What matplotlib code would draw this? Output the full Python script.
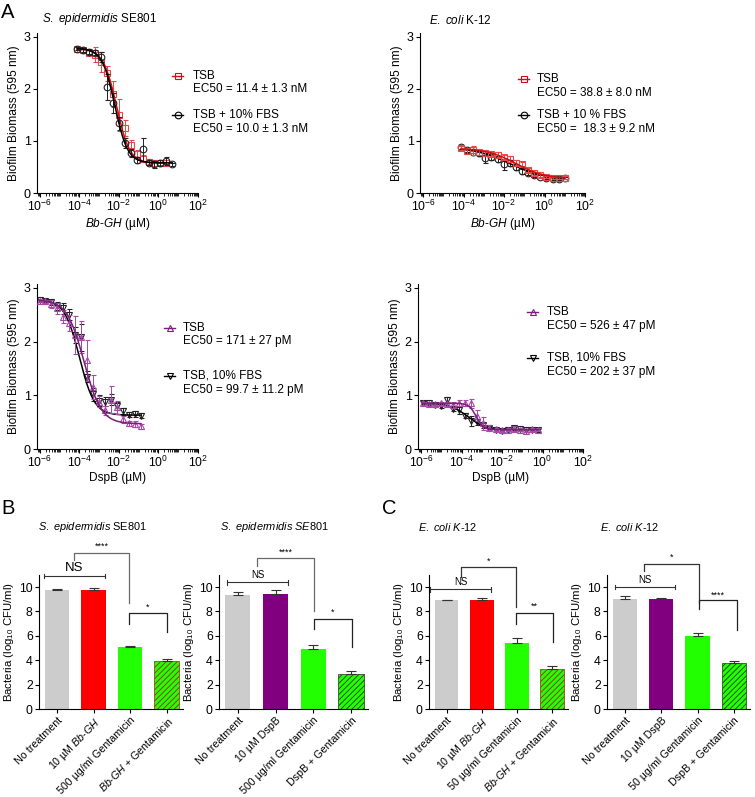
import numpy as np
import matplotlib
matplotlib.use("Agg")
import matplotlib.pyplot as plt
from matplotlib.ticker import LogLocator, NullFormatter, FixedLocator
from matplotlib.lines import Line2D

plt.rcParams['font.family'] = 'Liberation Sans'
plt.rcParams['mathtext.fontset'] = 'custom'
plt.rcParams['mathtext.rm'] = 'Liberation Sans'
plt.rcParams['mathtext.it'] = 'Liberation Sans:italic'
plt.rcParams['mathtext.bf'] = 'Liberation Sans:bold'
plt.rcParams['mathtext.sf'] = 'Liberation Sans'
plt.rcParams['hatch.linewidth'] = 0.6

# ---- A: dose response data (concentration in uM) ----
se_bb_conc = [7.6e-5, 1.5e-4, 3.1e-4, 6.1e-4, 1.2e-3, 2.4e-3, 4.9e-3, 9.8e-3, 0.0195,
              0.039, 0.078, 0.156, 0.3125, 0.625, 1.25, 2.5, 5.0]
se_bb_tsb = [2.76, 2.74, 2.70, 2.66, 2.52, 2.30, 1.90, 1.50, 1.25, 0.92, 0.75, 0.66,
             0.60, 0.57, 0.58, 0.58]
se_bb_tsb_err = [0.04, 0.04, 0.05, 0.15, 0.2, 0.15, 0.25, 0.3, 0.15, 0.1, 0.08, 0.07,
                 0.05, 0.05, 0.05, 0.06]
se_bb_fbs = [2.77, 2.75, 2.72, 2.70, 2.61, 2.04, 1.73, 1.34, 0.96, 0.77, 0.64, 0.84,
             0.58, 0.55, 0.57, 0.61, 0.55]
se_bb_fbs_err = [0.03, 0.03, 0.04, 0.05, 0.10, 0.25, 0.2, 0.12, 0.1, 0.08, 0.06, 0.22,
                 0.05, 0.06, 0.06, 0.08, 0.03]
se_bb_tsb_fit = [2.77, 0.57, 0.0075, 1.3]   # top, bottom, EC50, hill
se_bb_fbs_fit = [2.78, 0.58, 0.0062, 1.35]

ec_bb_conc = [7.6e-5, 1.5e-4, 3.1e-4, 6.1e-4, 1.2e-3, 2.4e-3, 4.9e-3, 9.8e-3, 0.0195,
              0.039, 0.078, 0.156, 0.3125, 0.625, 1.25, 2.5, 5.0, 10.0]
ec_bb_tsb = [0.86, 0.80, 0.82, 0.78, 0.76, 0.75, 0.74, 0.70, 0.66, 0.58, 0.55, 0.45,
             0.38, 0.34, 0.30, 0.28, 0.28, 0.29]
ec_bb_tsb_err = [0.04, 0.05, 0.08, 0.05, 0.04, 0.04, 0.05, 0.04, 0.06, 0.05, 0.04, 0.04,
                 0.03, 0.03, 0.02, 0.02, 0.02, 0.03]
ec_bb_fbs = [0.88, 0.82, 0.78, 0.76, 0.67, 0.70, 0.66, 0.55, 0.58, 0.50, 0.42, 0.38,
             0.34, 0.31, 0.28, 0.27, 0.27, 0.28]
ec_bb_fbs_err = [0.03, 0.04, 0.05, 0.04, 0.10, 0.06, 0.06, 0.10, 0.06, 0.05, 0.05, 0.04,
                 0.03, 0.03, 0.02, 0.02, 0.02, 0.02]
ec_bb_tsb_fit = [0.86, 0.27, 0.039, 0.6]
ec_bb_fbs_fit = [0.88, 0.26, 0.018, 0.5]

se_dsp_conc = [9.5e-7, 1.9e-6, 3.8e-6, 7.6e-6, 1.5e-5, 3.1e-5, 6.1e-5, 1.2e-4, 2.4e-4,
               4.9e-4, 9.8e-4, 2.0e-3, 3.9e-3, 7.8e-3, 0.0156, 0.031, 0.0625, 0.125]
se_dsp_tsb = [2.76, 2.75, 2.70, 2.62, 2.46, 2.35, 2.12, 2.08, 1.65, 1.15, 0.88, 0.72,
              0.92, 0.78, 0.55, 0.48, 0.47, 0.42]
se_dsp_tsb_err = [0.03, 0.03, 0.08, 0.1, 0.12, 0.15, 0.35, 0.3, 0.38, 0.22, 0.1, 0.08,
                  0.25, 0.12, 0.06, 0.05, 0.06, 0.05]
se_dsp_fbs = [2.77, 2.76, 2.73, 2.66, 2.62, 2.50, 2.13, 2.08, 1.35, 1.02, 0.90, 0.88,
              0.92, 0.80, 0.70, 0.64, 0.65, 0.62]
se_dsp_fbs_err = [0.03, 0.03, 0.04, 0.08, 0.1, 0.1, 0.15, 0.25, 0.1, 0.12, 0.1, 0.08,
                  0.1, 0.08, 0.06, 0.05, 0.05, 0.05]
se_dsp_tsb_fit = [2.78, 0.47, 1.71e-4, 1.0]
se_dsp_fbs_fit = [2.78, 0.63, 1.0e-4, 1.15]

ec_dsp_conc = [1.2e-6, 2.4e-6, 4.8e-6, 9.5e-6, 1.9e-5, 3.8e-5, 7.6e-5, 1.5e-4, 3.1e-4,
               6.1e-4, 1.2e-3, 2.4e-3, 4.9e-3, 9.8e-3, 0.0195, 0.039, 0.078, 0.156,
               0.3125, 0.625]
ec_dsp_tsb = [0.85, 0.84, 0.83, 0.85, 0.84, 0.82, 0.86, 0.86, 0.85, 0.62, 0.48, 0.40,
              0.37, 0.35, 0.36, 0.38, 0.36, 0.34, 0.37, 0.36]
ec_dsp_tsb_err = [0.03, 0.03, 0.03, 0.03, 0.04, 0.05, 0.05, 0.06, 0.08, 0.1, 0.12, 0.04,
                  0.03, 0.03, 0.03, 0.04, 0.03, 0.03, 0.03, 0.03]
ec_dsp_fbs = [0.86, 0.85, 0.82, 0.80, 0.92, 0.75, 0.72, 0.62, 0.52, 0.50, 0.44, 0.40,
              0.35, 0.33, 0.36, 0.39, 0.37, 0.35, 0.36, 0.35]
ec_dsp_fbs_err = [0.03, 0.03, 0.03, 0.03, 0.04, 0.05, 0.06, 0.05, 0.1, 0.06, 0.04, 0.03,
                  0.03, 0.03, 0.03, 0.04, 0.03, 0.03, 0.03, 0.03]
ec_dsp_tsb_fit = [0.85, 0.36, 5.26e-4, 2.5]
ec_dsp_fbs_fit = [0.85, 0.36, 2.02e-4, 1.0]

# ---- B / C: bacteria counts (log10 CFU/ml) ----
b1_vals = [9.75, 9.78, 5.05, 3.9]
b1_err = [0.12, 0.12, 0.12, 0.22]
b2_vals = [9.35, 9.45, 4.9, 2.85]
b2_err = [0.22, 0.27, 0.35, 0.3]
c1_vals = [8.9, 8.95, 5.4, 3.25]
c1_err = [0.06, 0.12, 0.42, 0.3]
c2_vals = [9.05, 8.98, 6.0, 3.75]
c2_err = [0.2, 0.15, 0.25, 0.2]

bb = r"$\mathit{Bb}$-$\mathit{GH}$"
b1_labels = ["No treatment", "10 µM " + bb, "500 µg/ml Gentamicin", bb + " + Gentamicin"]
b2_labels = ["No treatment", "10 µM DspB", "500 µg/ml Gentamicin", "DspB + Gentamicin"]
c1_labels = ["No treatment", "10 µM " + bb, "50 µg/ml Gentamicin", bb + " + Gentamicin"]
c2_labels = ["No treatment", "10 µM DspB", "50 µg/ml Gentamicin", "DspB + Gentamicin"]

W, H = 755, 797
fig = plt.figure(figsize=(W / 100, H / 100), dpi=100)


def rect(l, r, top, bot):
    return [l / W, 1 - bot / H, (r - l) / W, (bot - top) / H]


def hill(x, p):
    top, bottom, ec50, h = p
    return bottom + (top - bottom) / (1 + (x / ec50) ** h)


def style_axes(ax, size):
    for s in ['top', 'right']:
        ax.spines[s].set_visible(False)
    for s in ['left', 'bottom']:
        ax.spines[s].set_linewidth(0.8)
    ax.tick_params(direction='out', width=0.8, length=3, labelsize=size, pad=1.5)


def dose_panel(ax, series, xlabel):
    for conc, y, err, fit, marker, mcol, lcol, z in series:
        xs = np.array(conc[:len(y)])
        ax.errorbar(xs, y, yerr=err, fmt=marker, ms=4.8, mfc='none', mec=mcol, mew=0.8,
                    ecolor=mcol, elinewidth=0.7, capsize=1.8, capthick=0.7, zorder=z)
        xf = np.logspace(np.log10(xs.min()), np.log10(xs.max()), 200)
        ax.plot(xf, hill(xf, fit), color=lcol, lw=1.1, zorder=z + 1)
    ax.set_xscale('log')
    ax.set_xlim(10 ** -6.15, 1e2)
    ax.set_ylim(0, 3.08)
    ax.xaxis.set_major_locator(FixedLocator([1e-6, 1e-4, 1e-2, 1e0, 1e2]))
    ax.xaxis.set_minor_locator(LogLocator(base=10, subs=np.arange(1, 10), numticks=50))
    ax.xaxis.set_minor_formatter(NullFormatter())
    ax.set_yticks([0, 1, 2, 3])
    style_axes(ax, 9)
    ax.tick_params(axis='x', labelsize=8.8)
    ax.tick_params(axis='x', which='minor', length=1.8, width=0.6)
    ax.set_ylabel("Biofilm Biomass (595 nm)", fontsize=8.6, labelpad=3)
    ax.set_xlabel(xlabel, fontsize=8.6, labelpad=1)


def legend_item(x0, y, color, marker, lines, tx):
    fig.add_artist(Line2D([x0 / W, (x0 + 11) / W], [1 - y / H, 1 - y / H], color=color,
                          lw=1.0))
    fig.add_artist(Line2D([(x0 + 5.5) / W], [1 - y / H], color=color, marker=marker,
                          ms=4.8, mfc='none', mew=0.8))
    for i, t in enumerate(lines):
        fig.text(tx / W, 1 - (y + i * 13.5) / H, t, fontsize=8.5, va='center', ha='left')


red_m, red_l = '#e64848', '#d01010'
blk = '#222222'
pur_m, pur_l = '#a848a8', '#7a1f7a'

axA1 = fig.add_axes(rect(37, 198, 32.8, 193))
dose_panel(axA1, [(se_bb_conc, se_bb_tsb, se_bb_tsb_err, se_bb_tsb_fit, 's', red_m, red_l, 2),
                  (se_bb_conc, se_bb_fbs, se_bb_fbs_err, se_bb_fbs_fit, 'o', blk, 'black', 4)],
           bb + " (µM)")
axA2 = fig.add_axes(rect(420, 585, 32.8, 193))
dose_panel(axA2, [(ec_bb_conc, ec_bb_fbs, ec_bb_fbs_err, ec_bb_fbs_fit, 'o', blk, 'black', 2),
                  (ec_bb_conc, ec_bb_tsb, ec_bb_tsb_err, ec_bb_tsb_fit, 's', red_m, red_l, 4)],
           bb + " (µM)")
axA3 = fig.add_axes(rect(37, 198, 283.6, 449))
dose_panel(axA3, [(se_dsp_conc, se_dsp_fbs, se_dsp_fbs_err, se_dsp_fbs_fit, 'v', blk, 'black', 2),
                  (se_dsp_conc, se_dsp_tsb, se_dsp_tsb_err, se_dsp_tsb_fit, '^', pur_m, pur_l, 4)],
           "DspB (µM)")
axA4 = fig.add_axes(rect(418, 583, 283.6, 449))
dose_panel(axA4, [(ec_dsp_conc, ec_dsp_fbs, ec_dsp_fbs_err, ec_dsp_fbs_fit, 'v', blk, 'black', 2),
                  (ec_dsp_conc, ec_dsp_tsb, ec_dsp_tsb_err, ec_dsp_tsb_fit, '^', pur_m, pur_l, 4)],
           "DspB (µM)")

legend_item(172, 76, red_l, 's', ["TSB", "EC50 = 11.4 ± 1.3 nM"], 193)
legend_item(172, 115, 'black', 'o', ["TSB + 10% FBS", "EC50 = 10.0 ± 1.3 nM"], 193)
legend_item(518, 79, red_l, 's', ["TSB", "EC50 = 38.8 ± 8.0 nM"], 537)
legend_item(518, 115, 'black', 'o', ["TSB + 10 % FBS", "EC50 =  18.3 ± 9.2 nM"], 537)
legend_item(164, 328, pur_l, '^', ["TSB", "EC50 = 171 ± 27 pM"], 183)
legend_item(164, 376, 'black', 'v', ["TSB, 10% FBS", "EC50 = 99.7 ± 11.2 pM"], 183)
legend_item(527, 312, pur_l, '^', ["TSB", "EC50 = 526 ± 47 pM"], 547)
legend_item(527, 358, 'black', 'v', ["TSB, 10% FBS", "EC50 = 202 ± 37 pM"], 547)

fig.text(42 / W, 1 - 19 / H, r"$\mathit{S.\ epidermidis}$ SE801", fontsize=8.4, va='center')
fig.text(429 / W, 1 - 20 / H, r"$\mathit{E.\ coli}$ K-12", fontsize=8.4, va='center')


# ---- bar panels ----
def bar_panel(ax, vals, err, labels, mid_color, hatch_color, brackets, ns, ns_size):
    x = np.arange(len(vals))
    colors = ['#cccccc', mid_color, '#22ff00', '#22ff00']
    bars = ax.bar(x, vals, width=0.67, color=colors, linewidth=0, zorder=2)
    bars[3].set_hatch('//////')
    bars[3].set_edgecolor(hatch_color)
    bars[3].set_linewidth(0.5)
    ax.errorbar(x, vals, yerr=[np.zeros(len(err)), err], fmt='none', ecolor='#333333',
                elinewidth=0.8, capsize=3.5, capthick=0.8, zorder=3)
    ax.set_xlim(-0.5, 3.45)
    ax.set_ylim(0, 11)
    ax.set_yticks([0, 2, 4, 6, 8, 10])
    style_axes(ax, 8.8)
    ax.set_xticks(x)
    ax.set_xticklabels(labels, rotation=45, ha='right', rotation_mode='anchor', fontsize=7.7)
    ax.set_ylabel(r"Bacteria (log$_{10}$ CFU/ml)", fontsize=8.2, labelpad=2)
    # NS bracket
    x1, x2, yl, ty = ns
    ax.plot([x1, x2], [yl, yl], color='#333333', lw=0.8, clip_on=False)
    for xx in (x1, x2):
        ax.plot([xx, xx], [yl - 0.2, yl + 0.2], color='#333333', lw=0.8, clip_on=False)
    ax.text((x1 + x2) / 2, ty, "NS", fontsize=ns_size, ha='center', va='center')
    for x1, x2, top, yl1, yl2, txt, ty, col in brackets:
        ax.plot([x1, x1, x2, x2], [yl1, top, top, yl2], color=col, lw=0.9, clip_on=False)
        ax.text((x1 + x2) / 2, ty, txt, fontsize=6.5, ha='center', va='center')


gray_b = '#6a6a6a'
axB1 = fig.add_axes(rect(39, 183, 574.8, 709))
bar_panel(axB1, b1_vals, b1_err, b1_labels, '#ff0000', '#a02818',
          [(0.47, 1.97, 12.8, 12.2, 8.7, "****", 13.35, gray_b),
           (1.97, 3.0, 7.85, 7.0, 6.3, "*", 8.35, '#222222')],
          (-0.35, 1.3, 10.9, 11.55), 9.5)
axB2 = fig.add_axes(rect(219, 368, 574.8, 709))
bar_panel(axB2, b2_vals, b2_err, b2_labels, '#800080', '#203818',
          [(0.52, 2.02, 12.35, 11.7, 8.05, "****", 12.85, gray_b),
           (2.02, 3.02, 7.35, 6.55, 5.1, "*", 7.9, '#222222')],
          (-0.28, 1.33, 10.4, 11.0), 7)
axC1 = fig.add_axes(rect(429, 568, 574.8, 709))
bar_panel(axC1, c1_vals, c1_err, c1_labels, '#ff0000', '#a02818',
          [(0.42, 1.97, 11.6, 10.85, 8.4, "*", 12.15, '#333333'),
           (1.97, 3.03, 7.9, 6.95, 5.5, "**", 8.4, '#222222')],
          (-0.48, 1.27, 9.8, 10.45), 7)
axC2 = fig.add_axes(rect(607, 750, 574.8, 709))
bar_panel(axC2, c2_vals, c2_err, c2_labels, '#800080', '#203818',
          [(0.53, 2.05, 11.9, 11.35, 8.65, "*", 12.45, '#333333'),
           (2.05, 3.08, 8.9, 8.2, 6.5, "****", 9.35, '#222222')],
          (-0.29, 1.39, 10.0, 10.6), 7)

fig.text(93 / W, 1 - 527 / H, r"$\mathit{S.\ epidermidis}$ SE801", fontsize=7.9,
         ha='center', va='center')
fig.text(275 / W, 1 - 527 / H, r"$\mathit{S.\ epidermidis\ SE801}$", fontsize=7.9,
         ha='center', va='center')
fig.text(448 / W, 1 - 527 / H, r"$\mathit{E.\ coli\ K}$-$\mathit{12}$", fontsize=7.9,
         ha='center', va='center')
fig.text(630 / W, 1 - 527 / H, r"$\mathit{E.\ coli\ K}$-$\mathit{12}$", fontsize=7.9,
         ha='center', va='center')

fig.text(1 / W, 1 - 12 / H, "A", fontsize=14.5, va='center', ha='left')
fig.text(1 / W, 1 - 508 / H, "B", fontsize=14.5, va='center', ha='left')
fig.text(382 / W, 1 - 508 / H, "C", fontsize=14.5, va='center', ha='left')

fig.savefig('out.png', dpi=100)
